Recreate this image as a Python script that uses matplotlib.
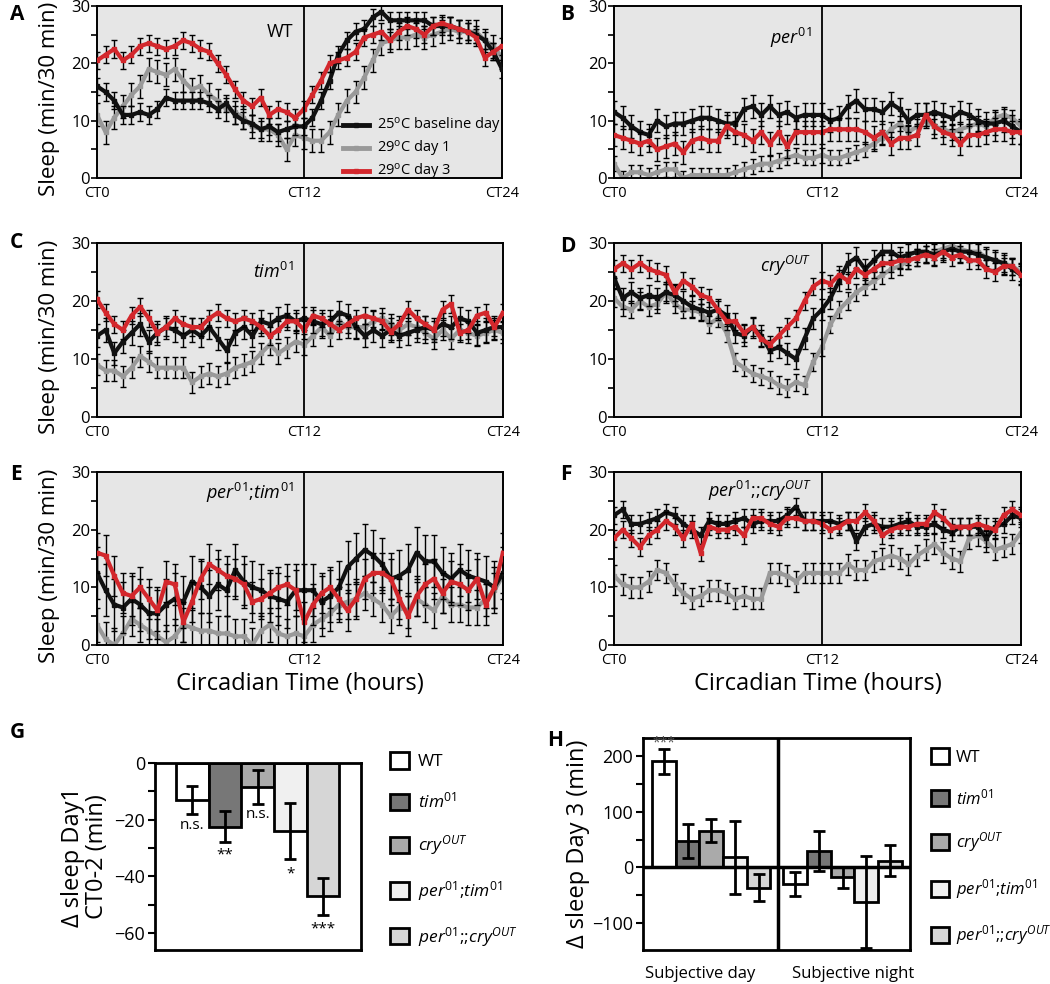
import numpy as np
import matplotlib.pyplot as plt
from matplotlib.lines import Line2D
from matplotlib.patches import Patch

plt.rcParams['font.family'] = ['Open Sans', 'DejaVu Sans']
plt.rcParams['mathtext.fontset'] = 'custom'
plt.rcParams['mathtext.rm'] = 'Open Sans'
plt.rcParams['mathtext.it'] = 'Open Sans:italic'
plt.rcParams['mathtext.bf'] = 'Open Sans:bold'

# =============================================================================
# Data  (sleep, min / 30 min, 48 half-hour bins CT0 -> CT23.5)
# =============================================================================

t = np.arange(48) * 0.5

# A - WT
wt_base = [16, 15, 13.5, 11, 11, 11.5, 11, 12, 14, 13.5, 13.5, 13.5, 13.5, 13, 12, 13,
           11, 10, 9.5, 8.5, 9, 8, 8.5, 9, 9, 10.5, 13.5, 17, 21.5, 24, 25.5, 26,
           28, 29, 27.5, 27.5, 27.5, 27.5, 27.5, 26.5, 26.5, 26.5, 26, 25.5, 25, 24, 22, 19]
wt_d1 = [11, 8, 10.5, 12.5, 14.5, 16, 19, 18.5, 18, 19, 17, 15.5, 16, 14.5, 13.5, 12,
         11.5, 10.5, 9, 8.5, 8.5, 7.5, 5, 7.5, 7, 6.5, 6.5, 8, 11, 13.5, 15, 17.5,
         20.5, 23.5, 24, 24.5, 24.5, 25, 24.5, 25, 25.5, 26, 25.5, 25.5, 25.5, 24, 23, 21]
wt_d3 = [20.5, 21.5, 22.5, 20.5, 21.5, 23, 23.5, 23, 22.5, 23, 24, 23.5, 22.5, 22, 20, 18,
         15.5, 13.5, 12.5, 14, 11, 12, 11.5, 10.5, 12, 14.5, 17, 20, 20.5, 21, 22, 24.5,
         25, 25.5, 24, 25.5, 26.5, 26, 25, 26.5, 27, 26.5, 26, 25.5, 24.5, 21, 22, 23]

# B - per01
per_base = [11.5, 10.5, 9, 8, 7.5, 10, 9, 9.5, 9.5, 10, 10.5, 10.5, 10, 9.5, 9.5, 12,
            12.5, 11, 12.5, 11, 11.5, 10.5, 11, 11, 11, 10, 10.5, 12.5, 13.5, 12, 12, 11.5,
            13, 12, 10, 11, 11, 11.5, 11, 10.5, 11.5, 11, 10, 9.5, 9.5, 10, 9, 8]
per_d1 = [2.5, 0, 1, 1, 0.5, 1, 1.5, 1.5, 0, 0.5, 0.5, 0.5, 0.5, 0.5, 1, 1.5,
          2, 2.5, 2.5, 3, 3.5, 4, 3.5, 3.5, 4, 3.5, 3.5, 4, 4.5, 5, 6, 7,
          8.5, 9.5, 8, 9, 10, 9, 8.5, 8, 8.5, 9, 9.5, 9, 10.5, 11, 10.5, 9]
per_d3 = [7.5, 7, 6.5, 6, 6.5, 5, 5.5, 6, 4.5, 6.5, 7, 6.5, 6.5, 9, 8, 7.5,
          6.5, 8, 6, 8, 5.5, 8, 8, 8, 8, 8.5, 8.5, 8.5, 8.5, 8, 7, 8,
          6, 7, 7, 7.5, 11, 9, 8, 7.5, 6, 7.5, 7.5, 8, 8.5, 8.5, 8, 8]

# C - tim01
tim_base = [14, 15, 11, 13, 14.5, 16, 13, 14.5, 15.5, 15, 14, 15, 14, 15.5, 13.5, 11.5,
            14.5, 15.5, 14, 16.5, 16, 17, 17.5, 16.5, 17, 16.5, 16, 16.5, 18, 17.5, 15.5, 14,
            15, 14, 15, 14, 14.5, 15, 15.5, 15, 16, 15.5, 17, 16.5, 14.5, 15, 15.5, 15.5]
tim_d1 = [9, 8, 8, 7, 8.5, 10.5, 9.5, 8.5, 8.5, 8.5, 8.5, 6, 7, 7.5, 7, 7.5,
          8.5, 9, 9.5, 11, 12.5, 11, 12, 13, 12.5, 14, 15.5, 14, 16.5, 15.5, 15.5, 15.5,
          16.5, 17, 16, 15, 16, 15.5, 14.5, 13.5, 15, 13.5, 15, 14.5, 14, 14.5, 15, 14.5]
tim_d3 = [20.3, 18, 16, 15, 17.5, 19, 17, 14.5, 15.5, 17, 16, 15.5, 15.5, 17, 18, 17,
          16.5, 17, 16.5, 15.5, 14, 15, 16.5, 16.5, 15, 17.5, 17, 16, 15, 16, 17, 17.5,
          17, 16.5, 14.7, 16, 18.5, 17, 16, 15, 18.5, 19.5, 14.5, 15, 17.5, 18, 15.5, 18]

# D - cryOUT
cry_base = [24, 20.5, 21.5, 20.5, 21, 20.5, 21.5, 21, 20, 19, 18.5, 18, 18.5, 17.5, 14.5, 14,
            15.5, 14, 11.5, 12, 11, 10, 13.5, 17, 18.5, 20.5, 23.5, 26.5, 27.5, 25.5, 27, 28.5,
            28.5, 27.5, 28, 28.5, 28.5, 28, 28.5, 29, 28.5, 28.5, 28, 27.5, 27, 26.5, 25.5, 24.5]
cry_d1 = [20.5, 19, 18.5, 20, 19, 19.5, 21.5, 19.5, 18.5, 18.5, 18, 16, 17, 14.5, 9.5, 8.5,
          7.5, 7, 6.5, 5.5, 5, 6, 5.5, 9.5, 12, 16, 18.5, 20, 21.5, 22.5, 23.5, 24.5,
          25.5, 26, 27, 27.5, 28, 28.5, 29, 29.5, 29, 28.5, 28.5, 27.5, 27, 26.5, 26, 25]
cry_d3 = [25.5, 26.5, 25.5, 26.5, 25.5, 25, 24.5, 21.5, 23.5, 22.5, 21, 20.5, 18.5, 16.5, 16.5, 14.5,
          15.5, 13.5, 12.5, 14, 15.5, 17, 20, 22.5, 23.5, 23, 24.5, 23.5, 25.5, 24.5, 25.5, 26.5,
          26.5, 27, 27, 27.5, 28, 27.5, 28.5, 27.5, 28, 27, 27, 25.5, 25, 26, 26, 24.5]

# E - per01;tim01
pt_base = [12.5, 9.5, 7, 6.5, 8, 7, 5.5, 5.5, 7, 8, 7.5, 11, 10, 8.5, 10.5, 9.5,
           13, 11, 10, 9.5, 8.5, 8, 7.5, 9.5, 9.5, 9.5, 7.5, 8.5, 10, 13.5, 15, 16.5,
           15.5, 14, 11.5, 12, 13, 16, 14.5, 14.5, 12.5, 11.5, 13, 12, 11.5, 11, 10, 12.5]
pt_d1 = [3.5, 1, 0, 2, 4.5, 3.5, 2.5, 1.5, 0.5, 1.5, 3.5, 3, 2.5, 2.5, 2, 2,
         1.5, 1.5, 0, 2.5, 3.5, 2, 1.5, 2, 1.5, 3.5, 4.5, 5.5, 7, 7.5, 8, 9,
         8, 7, 5, 6.5, 6, 8, 7, 6, 8.5, 7, 7, 6.5, 6.5, 8, 9.5, 12]
pt_d3 = [16, 15.5, 12, 9, 8.5, 10, 8, 6, 11, 10.5, 4, 7.5, 11.5, 14, 13, 12,
         11.5, 10.5, 7.5, 8, 9, 10, 10.5, 9.5, 4, 7, 9, 10, 8, 6, 8, 11.5,
         12.5, 12.5, 11.5, 8, 5, 8.5, 10.5, 11.5, 9, 11, 10.5, 9.5, 11.5, 7, 10, 16]

# F - per01;;cryOUT
pc_base = [22.5, 23.5, 21, 21, 21.5, 22, 23, 22.5, 21, 20, 19, 21.5, 21, 21, 21.5, 22,
           21, 21.5, 21.5, 21.5, 22.5, 24, 21.5, 21.5, 21.5, 21.5, 21, 21.5, 18, 20.5, 21, 20.5,
           20.5, 21, 21.5, 20.5, 20.5, 21, 20, 19.5, 20.5, 20.5, 20.5, 18.5, 20.5, 21, 22.5, 22]
pc_d1 = [12, 10.5, 10, 10, 11, 13, 12.5, 10.5, 9, 8, 8.5, 9.5, 9.5, 9, 8, 8.5,
         8, 8, 12.5, 12.5, 12, 11, 12.5, 12.5, 12.5, 12.5, 12.5, 14, 13, 13, 14.5, 15,
         15.5, 15, 14, 15.5, 16.5, 17.5, 16, 15, 14.5, 18.5, 19, 18, 16.5, 17, 17.5, 19.5]
pc_d3 = [18.5, 20, 18.5, 17, 19, 20, 21.5, 20.5, 18.5, 21, 16, 20.5, 20, 20, 20.5, 19,
         22, 22, 21, 20.5, 22, 22, 21.5, 21.5, 21, 20, 20.5, 21.5, 21.5, 23, 21.5, 19,
         20, 20.5, 20.5, 21, 21, 23, 22, 20.5, 20.5, 20.5, 21, 20.5, 20, 22.5, 23.5, 22.5]

# SEM per series (base, day1, day3)
sem_wt = [1.5, 2.0, 1.5]
sem_per = [2.0, 1.3, 2.0]
sem_tim = [2.0, 1.8, 1.5]
sem_cry = [1.8, 1.5, 1.5]
sem_pt = [4.5, 3.0, 3.5]
sem_pc = [1.5, 1.8, 1.5]

# G / H bar data
genotypes = ['WT', r'$\mathit{tim}^{\mathit{01}}$', r'$\mathit{cry}^{\mathit{OUT}}$',
             r'$\mathit{per}^{\mathit{01}}$;$\mathit{tim}^{\mathit{01}}$',
             r'$\mathit{per}^{\mathit{01}}$;;$\mathit{cry}^{\mathit{OUT}}$']
g_mean = [-13, -22.5, -8.5, -24, -47]
g_err = [5, 5.5, 6, 10, 6.5]
g_sig = ['n.s.', '**', 'n.s.', '*', '***']
g_sig_y = [-22, -32.5, -18, -39, -58.5]

h_day = [190, 47, 66, 18, -36]
h_day_err = [22, 30, 21, 65, 24]
h_night = [-30, 30, -18, -62, 12]
h_night_err = [22, 36, 18, 83, 28]

bar_colors = ['white', '#777777', '#aaaaaa', '#f0f0f0', '#d6d6d6']

# =============================================================================
# Plot
# =============================================================================

W, H = 1050, 984
fig = plt.figure(figsize=(W / 100, H / 100), dpi=100)

def rect(x0, x1, y0, y1):
    return [x0 / W, 1 - y1 / H, (x1 - x0) / W, (y1 - y0) / H]

c_base, c_d1, c_d3 = '#111111', '#999999', '#d3272c'

panels = [
    ('A', 14, rect(97, 502, 6, 178), 'WT', 25.5, wt_base, wt_d1, wt_d3, sem_wt),
    ('B', 14, rect(614, 1021, 6, 178), r'$\mathit{per}^{\mathit{01}}$', 24.5, per_base, per_d1, per_d3, sem_per),
    ('C', 243, rect(97, 503, 243, 417), r'$\mathit{tim}^{\mathit{01}}$', 25, tim_base, tim_d1, tim_d3, sem_tim),
    ('D', 246, rect(614, 1021, 243, 417), r'$\mathit{cry}^{\mathit{OUT}}$', 26, cry_base, cry_d1, cry_d3, sem_cry),
    ('E', 474, rect(97, 503, 472, 645), r'$\mathit{per}^{\mathit{01}}$;$\mathit{tim}^{\mathit{01}}$', 26.3,
     pt_base, pt_d1, pt_d3, sem_pt),
    ('F', 475, rect(614, 1021, 472, 645), r'$\mathit{per}^{\mathit{01}}$;;$\mathit{cry}^{\mathit{OUT}}$', 26.8,
     pc_base, pc_d1, pc_d3, sem_pc),
]

for i, (letter, ly, r, geno, gy, base, d1, d3, sem) in enumerate(panels):
    ax = fig.add_axes(r)
    ax.set_facecolor('#e6e6e6')
    for ys, col, s, z in [(d1, c_d1, sem[1], 2), (base, c_base, sem[0], 3), (d3, c_d3, sem[2], 4)]:
        ax.errorbar(t, ys, yerr=s, fmt='none', ecolor='black', elinewidth=1,
                    capsize=2.5, capthick=1, zorder=z)
        ax.plot(t, ys, color=col, lw=3, marker='s', ms=2.5, zorder=z + 0.5)
    ax.axvline(12, color='black', lw=1.3, zorder=6)
    ax.set_xlim(0, 23.5)
    ax.set_ylim(0, 30)
    ax.set_yticks([0, 10, 20, 30])
    ax.set_yticks([5, 15, 25], minor=True)
    ax.set_xticks([0, 12, 23.5])
    ax.set_xticklabels(['CT0', 'CT12', 'CT24'])
    ax.tick_params(axis='y', which='both', direction='out', length=4, width=1.2,
                   labelsize=12, pad=1)
    ax.tick_params(axis='x', length=0, labelsize=10.5, pad=6)
    for sp in ax.spines.values():
        sp.set_linewidth(1.4)
    ax.text(11.4, gy, geno, ha='right', va='center', fontsize=13)

    lx = 10 / W if i % 2 == 0 else 560 / W
    fig.text(lx, 1 - ly / H, letter, fontsize=15, fontweight='bold',
             va='center', ha='left')
    if i % 2 == 0:
        fig.text(50 / W, r[1] + r[3] / 2 - 7 / H, 'Sleep (min/30 min)', rotation=90,
                 ha='center', va='center', fontsize=16)
    if letter == 'A':
        handles = [Line2D([], [], color=c, lw=3.5, marker='s', ms=3) for c in (c_base, c_d1, c_d3)]
        ax.legend(handles, [r'25$^{\rm o}$C baseline day', r'29$^{\rm o}$C day 1', r'29$^{\rm o}$C day 3'],
                  loc='upper left', bbox_to_anchor=(0.59, 0.4), frameon=False, fontsize=10.5,
                  labelspacing=0.2, handlelength=1.8, handletextpad=0.5, borderpad=0)
    if letter in ('E', 'F'):
        fig.text(r[0] + r[2] / 2, 1 - 684 / H, 'Circadian Time (hours)',
                 ha='center', va='center', fontsize=17)

# ---- G
axg = fig.add_axes(rect(155, 361, 763, 950))
xg = np.arange(5)
axg.bar(xg, g_mean, width=1, color=bar_colors, edgecolor='black', linewidth=2, zorder=2)
axg.errorbar(xg, g_mean, yerr=g_err, fmt='none', ecolor='black', elinewidth=2,
             capsize=4, capthick=2, zorder=3)
for x, s, y in zip(xg, g_sig, g_sig_y):
    axg.text(x, y, s, ha='center', va='center', fontsize=11)
axg.set_xlim(-1.15, 5.17)
axg.set_ylim(-66, 0)
axg.set_xticks([])
axg.set_yticks([0, -20, -40, -60])
axg.set_yticks([-10, -30, -50], minor=True)
axg.tick_params(axis='y', which='both', direction='out', length=5, width=1.5,
                labelsize=13, pad=2)
for sp in axg.spines.values():
    sp.set_linewidth(2)
axg.set_ylabel('\u0394 sleep Day1\nCT0-2 (min)', fontsize=17, labelpad=4, linespacing=1.0)
fig.text(10 / W, 1 - 733 / H, 'G', fontsize=15, fontweight='bold', va='center')

leg_h = [Patch(facecolor=c, edgecolor='black', linewidth=2) for c in bar_colors]
axg.legend(leg_h, genotypes, loc='upper left', bbox_to_anchor=(390 / W, 1 - 752 / H),
           bbox_transform=fig.transFigure, frameon=False, fontsize=12.5, labelspacing=1.25,
           handlelength=1.1, handleheight=1.1, handletextpad=0.5, borderpad=0,
           borderaxespad=0)

# ---- H
axh = fig.add_axes(rect(643, 910, 738, 950))
xd = np.arange(5)
xn = np.arange(5) + 5.55
axh.bar(xd, h_day, width=1, color=bar_colors, edgecolor='black', linewidth=2, zorder=2)
axh.bar(xn, h_night, width=1, color=bar_colors, edgecolor='black', linewidth=2, zorder=2)
axh.errorbar(xd, h_day, yerr=h_day_err, fmt='none', ecolor='black', elinewidth=2,
             capsize=4, capthick=2, zorder=3)
axh.errorbar(xn, h_night, yerr=h_night_err, fmt='none', ecolor='black', elinewidth=2,
             capsize=4, capthick=2, zorder=3)
axh.axhline(0, color='black', lw=2.5, zorder=4)
axh.axvline(4.82, color='black', lw=2.5, zorder=4)
axh.text(0, 223, '***', ha='center', va='center', fontsize=10, color='#555555')
axh.set_xlim(-0.885, 10.4)
axh.set_ylim(-148, 232)
axh.set_xticks([])
axh.set_yticks([200, 100, 0, -100])
axh.set_yticks([150, 50, -50], minor=True)
axh.tick_params(axis='y', which='both', direction='out', length=5, width=1.5,
                labelsize=13, pad=2)
for sp in axh.spines.values():
    sp.set_linewidth(2)
axh.set_ylabel('\u0394 sleep Day 3 (min)', fontsize=17, labelpad=2)
axh.text(1.55, -0.112, 'Subjective day', transform=axh.get_xaxis_transform(),
         ha='center', va='center', fontsize=12)
axh.text(8.0, -0.112, 'Subjective night', transform=axh.get_xaxis_transform(),
         ha='center', va='center', fontsize=12)
fig.text(547 / W, 1 - 740 / H, 'H', fontsize=15, fontweight='bold', va='center')
axh.legend(leg_h, genotypes, loc='upper left', bbox_to_anchor=(931 / W, 1 - 748 / H),
           bbox_transform=fig.transFigure, frameon=False, fontsize=12, labelspacing=1.35,
           handlelength=1.1, handleheight=1.1, handletextpad=0.4, borderpad=0,
           borderaxespad=0)

fig.savefig('out.png', dpi=100)
